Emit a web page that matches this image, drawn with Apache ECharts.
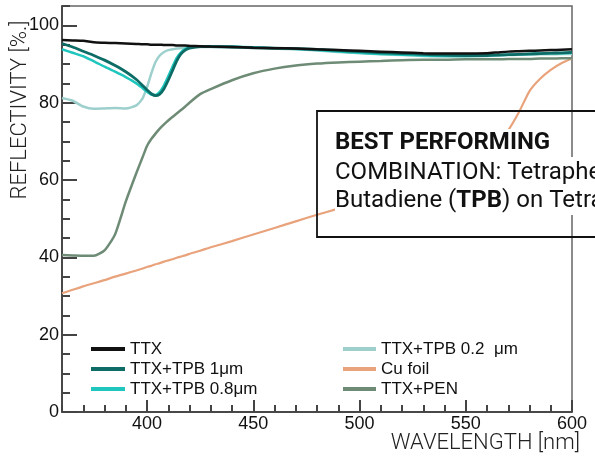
<!DOCTYPE html>
<html><head><meta charset="utf-8">
<script src="https://cdn.jsdelivr.net/npm/echarts@6/dist/echarts.min.js"></script>
<style>html,body{margin:0;padding:0;background:#fff}#c{width:595px;height:460px}</style>
</head><body><div id="c"></div>
<script>
const wavelength = [360,365,370,375,380,385,390,395,398,400,402,404,406,408,410,412,414,416,418,420,425,430,440,450,460,470,480,490,500,510,520,530,540,550,560,565,570,575,580,585,590,595,600];
const ttx    = [96.2,96.1,96.0,95.6,95.5,95.4,95.3,95.2,95.1,95.1,95.0,95.0,95.0,94.9,94.9,94.9,94.8,94.8,94.8,94.7,94.6,94.5,94.4,94.2,94.1,94.0,93.8,93.6,93.4,93.2,93.0,92.8,92.7,92.7,92.8,93.0,93.2,93.3,93.4,93.5,93.6,93.7,93.8];
const tpb1   = [95.3,94.4,93.3,92.2,91.0,89.6,88.0,86.0,84.4,83.3,82.3,81.8,82.2,83.6,85.8,88.3,90.8,92.6,93.6,94.1,94.5,94.5,94.4,94.2,94.1,94.0,93.8,93.5,93.2,92.9,92.7,92.5,92.3,92.2,92.2,92.3,92.4,92.5,92.6,92.7,92.8,92.9,93.0];
const tpb08  = [93.8,92.9,92.0,90.7,89.3,88.0,86.6,85.0,83.7,82.8,82.1,82.0,82.8,84.5,86.8,89.3,91.6,93.0,93.9,94.3,94.6,94.6,94.5,94.3,94.1,93.9,93.6,93.2,92.9,92.6,92.4,92.2,92.1,92.1,92.2,92.3,92.4,92.5,92.6,92.7,92.8,92.8,92.9];
const tpb02  = [81.2,80.5,79.0,78.4,78.5,78.6,78.5,79.3,81.2,84.0,87.5,90.5,92.2,93.1,93.6,93.8,94.0,94.1,94.2,94.3,94.4,94.4,94.3,94.2,94.0,93.8,93.5,93.1,92.8,92.5,92.3,92.1,92.0,92.0,92.1,92.2,92.3,92.4,92.4,92.5,92.5,92.6,92.6];
const cuFoil = [30.7,31.6,32.5,33.3,34.1,35.0,35.8,36.6,37.1,37.5,37.8,38.2,38.5,38.9,39.2,39.5,39.9,40.2,40.5,40.9,41.7,42.6,44.2,45.9,47.6,49.3,51.0,52.6,54.3,56.0,57.8,59.8,62.2,65.0,68.6,70.8,72.9,77.5,83.0,86.2,88.5,90.2,91.4];
const pen    = [40.6,40.5,40.4,40.4,41.8,46.0,54.4,61.8,66.0,68.8,70.6,72.0,73.3,74.4,75.4,76.3,77.2,78.1,79.0,80.0,82.2,83.5,85.8,87.6,88.8,89.6,90.1,90.4,90.6,90.8,91.0,91.1,91.1,91.2,91.2,91.2,91.3,91.3,91.3,91.4,91.4,91.5,91.5];

const xMajorTicks = [400,450,500,550,600];
const legendCol1 = ['TTX','TTX+TPB 1μm','TTX+TPB 0.8μm'];
const legendCol2 = ['TTX+TPB 0.2  μm','Cu foil','TTX+PEN'];

const pairs = v => wavelength.map((w,i)=>[w,v[i]]);
const mk = (name, vals, color, w) => ({
  name, type:'line', data: pairs(vals), showSymbol:false, symbol:'none',
  smooth:0.2, color,
  lineStyle:{color, width:w}, itemStyle:{color}, xAxisIndex:0, yAxisIndex:0
});
const tf = () => ({fontFamily:'Liberation Sans', fontSize:18, color:'#111'});
const chart = echarts.init(document.getElementById('c'), null, {renderer:'canvas'});
chart.setOption({
  animation:false,
  grid:{left:62, right:23, top:6, bottom:48, show:true, borderColor:'#666', borderWidth:1.5, backgroundColor:'transparent'},
  xAxis:[
    {type:'value', min:360, max:600, interval:10,
     axisLine:{show:true, onZero:false, lineStyle:{color:'#333', width:1.5}},
     axisTick:{show:true, inside:true, length:12, customValues:xMajorTicks, lineStyle:{color:'#444', width:2}},
     axisLabel:Object.assign({show:true, customValues:xMajorTicks, margin:3}, tf()),
     splitLine:{show:false}},
    {type:'value', min:360, max:600, interval:10, position:'bottom',
     axisLine:{show:false, onZero:false},
     axisTick:{show:true, inside:true, length:7, lineStyle:{color:'#444', width:2}},
     axisLabel:{show:false}, splitLine:{show:false}}
  ],
  yAxis:[
    {type:'value', min:0, max:105, interval:20,
     axisLine:{show:true, onZero:false, lineStyle:{color:'#333', width:1.5}},
     axisTick:{show:true, inside:true, length:15, lineStyle:{color:'#444', width:2}},
     axisLabel:Object.assign({show:true, margin:3, showMaxLabel:false}, tf()),
     splitLine:{show:false}},
    {type:'value', min:0, max:105, interval:5, position:'left',
     axisLine:{show:false, onZero:false},
     axisTick:{show:true, inside:true, length:8, lineStyle:{color:'#444', width:2}},
     axisLabel:{show:false}, splitLine:{show:false}}
  ],
  legend:[
    {data:legendCol1, orient:'vertical', left:86, top:334, itemWidth:34, itemHeight:4, itemGap:0, icon:'rect',
     textStyle:{fontFamily:'Liberation Sans', fontSize:17, color:'#111', lineHeight:20}, selectedMode:false},
    {data:legendCol2, orient:'vertical', left:338, top:334, itemWidth:33, itemHeight:4, itemGap:0, icon:'rect',
     textStyle:{fontFamily:'Liberation Sans', fontSize:17, color:'#111', lineHeight:20}, selectedMode:false}
  ],
  series:[
    mk('Cu foil', cuFoil, '#e9a37c', 2.2),
    mk('TTX+PEN', pen, '#6e8b76', 2.5),
    mk('TTX+TPB 0.2  μm', tpb02, '#9dd0cc', 2.5),
    mk('TTX+TPB 0.8μm', tpb08, '#1fc6bd', 2.5),
    mk('TTX+TPB 1μm', tpb1, '#0e6c67', 2.8),
    mk('TTX', ttx, '#111111', 2.5)
  ],
  graphic:[
    {type:'text', z:100, x:20, y:110, rotation:Math.PI/2,
     style:{text:'REFLECTIVITY [%.]', fontFamily:'Roboto', fontWeight:300, fontSize:22, fill:'#222', align:'center', verticalAlign:'middle'}},
    {type:'text', z:100, x:580, y:443,
     style:{text:'WAVELENGTH [nm]', fontFamily:'Roboto', fontWeight:300, fontSize:22, fill:'#222', align:'right', verticalAlign:'middle'}},
    {type:'rect', z:100, shape:{x:317, y:111, width:300, height:126},
     style:{fill:'none', stroke:'#111', lineWidth:1.8}},
    {type:'rect', z:101, shape:{x:335, y:129, width:218, height:28}, style:{fill:'#fff'}},
    {type:'rect', z:101, shape:{x:335, y:157, width:270, height:58}, style:{fill:'#fff'}},
    {type:'text', z:102, x:335, y:143,
     style:{text:'BEST PERFORMING', fontFamily:'Roboto', fontWeight:'bold', fontSize:24, fill:'#111', align:'left', verticalAlign:'middle'}},
    {type:'text', z:102, x:335, y:173,
     style:{text:'COMBINATION: Tetraphenyl', fontFamily:'Roboto', fontSize:24, fill:'#111', align:'left', verticalAlign:'middle'}},
    {type:'text', z:102, x:335, y:201,
     style:{text:'Butadiene ({b|TPB}) on Tetratex', fontFamily:'Roboto', fontSize:24, fill:'#111', align:'left', verticalAlign:'middle',
       rich:{b:{fontFamily:'Roboto', fontWeight:'bold', fontSize:24, fill:'#111'}}}}
  ]
});
</script></body></html>
